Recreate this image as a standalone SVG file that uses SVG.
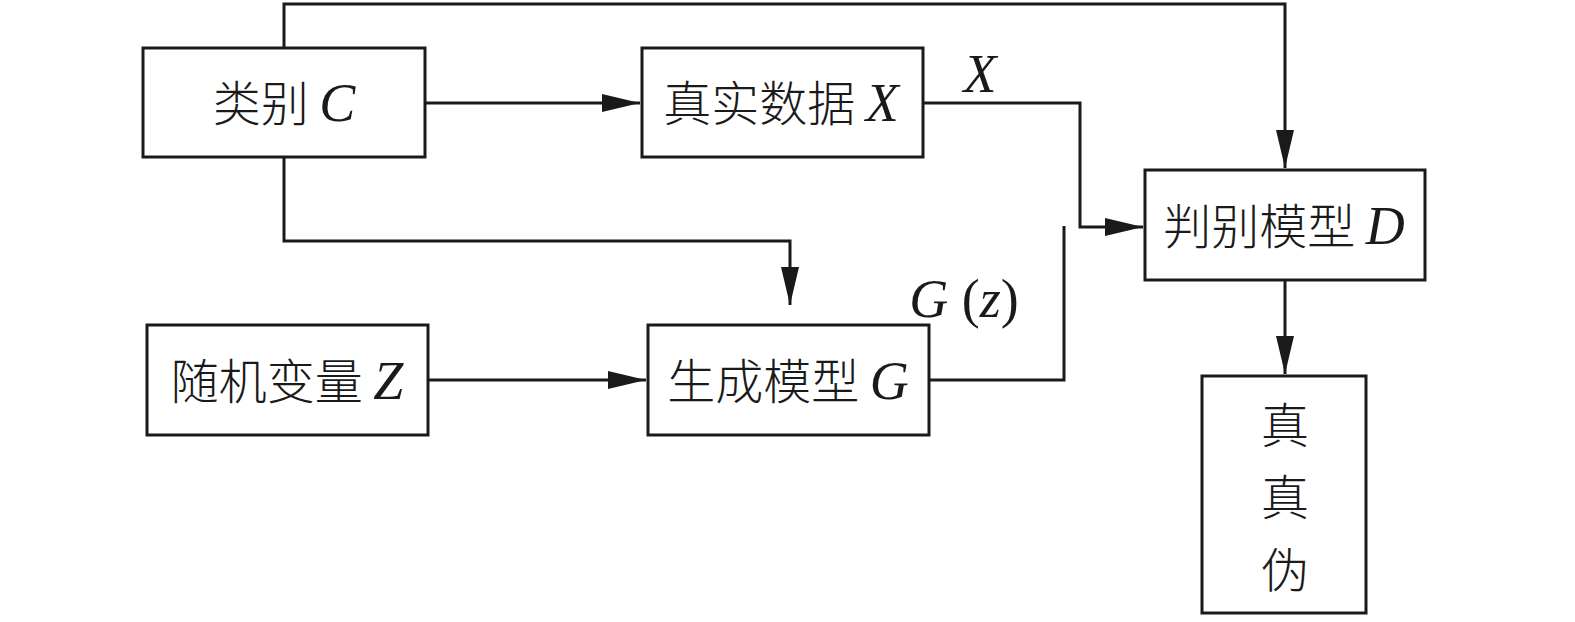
<svg xmlns="http://www.w3.org/2000/svg" width="1575" height="622" viewBox="0 0 1575 622">
<style>
.box{fill:#fff;stroke:#1a1a1a;stroke-width:3}
.ln{fill:none;stroke:#1a1a1a;stroke-width:3}
.cn{font-family:"Noto Sans CJK SC","Noto Sans CJK JP",sans-serif;font-size:48px;font-weight:300;fill:#1a1a1a}
.it{font-family:"Liberation Serif",serif;font-style:italic;font-weight:normal;font-size:54px}
.up{font-family:"Liberation Serif",serif;font-style:normal;font-weight:normal;font-size:54px}
</style>
<defs>
<marker id="ah" markerWidth="40" markerHeight="20" refX="38" refY="9" orient="auto" markerUnits="userSpaceOnUse">
<path d="M0,0 L38,9 L0,18 Z" fill="#1a1a1a"/>
</marker>
</defs>
<g id="connectors">
<path class="ln" d="M284,48 V4 H1285 V168" marker-end="url(#ah)"/>
<path class="ln" d="M425,103 H640" marker-end="url(#ah)"/>
<path class="ln" d="M284,157 V241 H790 V305" marker-end="url(#ah)"/>
<path class="ln" d="M923,103 H1080 V227 H1143" marker-end="url(#ah)"/>
<path class="ln" d="M428,380 H646" marker-end="url(#ah)"/>
<path class="ln" d="M929,380 H1064 V226"/>
<path class="ln" d="M1285,280 V374" marker-end="url(#ah)"/>
</g>
<g id="class-c">
<rect class="box" x="143" y="48" width="282" height="109"/>
<text class="cn" x="284" y="121" text-anchor="middle">类别 <tspan class="it">C</tspan></text>
</g>
<g id="real-data-x">
<rect class="box" x="642" y="48" width="281" height="109"/>
<text class="cn" x="781" y="121" text-anchor="middle">真实数据 <tspan class="it">X</tspan></text>
</g>
<g id="discriminator-d">
<rect class="box" x="1145" y="170" width="280" height="110"/>
<text class="cn" x="1284" y="244" text-anchor="middle">判别模型 <tspan class="it">D</tspan></text>
</g>
<g id="random-z">
<rect class="box" x="147" y="325" width="281" height="110"/>
<text class="cn" x="287" y="399" text-anchor="middle">随机变量 <tspan class="it">Z</tspan></text>
</g>
<g id="generator-g">
<rect class="box" x="648" y="325" width="281" height="110"/>
<text class="cn" x="788" y="399" text-anchor="middle">生成模型 <tspan class="it">G</tspan></text>
</g>
<g id="output">
<rect class="box" x="1202" y="376" width="164" height="237"/>
<text class="cn" x="1285" y="443" text-anchor="middle">真</text>
<text class="cn" x="1285" y="515" text-anchor="middle">真</text>
<text class="cn" x="1285" y="588" text-anchor="middle">伪</text>
</g>
<g id="labels">
<text class="it" x="980" y="92" text-anchor="middle" fill="#1a1a1a">X</text>
<text x="964" y="317" text-anchor="middle" fill="#1a1a1a"><tspan class="it">G</tspan><tspan class="up"> (</tspan><tspan class="it">z</tspan><tspan class="up">)</tspan></text>
</g>
</svg>
